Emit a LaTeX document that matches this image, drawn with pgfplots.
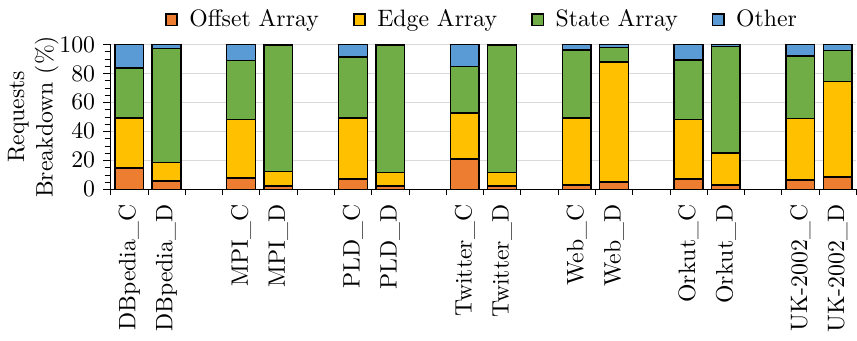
\documentclass[border=0pt]{standalone}
\usepackage{pgfplots}
\usepackage{pgfplotstable}
\pgfplotsset{compat=1.18}
\definecolor{cOff}{HTML}{ED7D31}
\definecolor{cEdge}{HTML}{FFC000}
\definecolor{cState}{HTML}{70AD47}
\definecolor{cOther}{HTML}{5B9BD5}
\pgfplotstableread{
x off edge state other
0 14.7 34.6 34.4 16.3
1 5.6 13.0 78.6 2.8
3 7.9 40.2 40.7 11.2
4 2.1 10.0 87.2 0.7
6 7.0 42.1 42.1 8.8
7 2.1 9.3 88.1 0.5
9 20.9 31.7 32.1 15.3
10 2.1 9.3 88.1 0.5
12 3.0 46.3 46.7 4.0
13 4.9 83.0 10.0 2.1
15 7.0 41.1 41.2 10.7
16 3.0 22.1 73.3 1.6
18 6.5 42.3 43.1 8.1
19 8.6 65.6 21.4 4.4
}\data
\begin{document}
\begin{tikzpicture}
\begin{axis}[
  ybar stacked,
  scale only axis,
  width=314pt, height=61pt,
  bar width=0.77,
  xmin=-0.5, xmax=19.5,
  ymin=0, ymax=100,
  axis x line*=bottom,
  axis y line*=left,
  ytick={0,20,40,60,80,100},
  minor y tick num=3,
  ymajorgrids,
  major grid style={gray!30, line width=0.6pt},
  tick align=outside,
  xtick={0,1,3,4,6,7,9,10,12,13,15,16,18,19},
  xticklabels={DBpedia\_C,DBpedia\_D,MPI\_C,MPI\_D,PLD\_C,PLD\_D,Twitter\_C,Twitter\_D,Web\_C,Web\_D,Orkut\_C,Orkut\_D,UK-2002\_C,UK-2002\_D},
  x tick label style={rotate=90, anchor=east},
  major x tick style={draw=none},
  minor xtick={-0.5,0.5,...,19.5},
  minor x tick style={black},
  minor tick length=2.5pt,
  major tick length=3pt,
  tick style={black},
  ylabel={Requests\\Breakdown (\%)},
  ylabel style={align=center, yshift=-6.5pt},
  legend columns=4,
  legend style={draw=none, at={(0.5,1.03)}, anchor=south,
    /tikz/every odd column/.append style={column sep=2.9pt},
    /tikz/every even column/.append style={column sep=12.4pt}},
  legend image code/.code={\draw[#1] (0pt,-2.35pt) rectangle (4.7pt,2.35pt);},
  every axis plot/.append style={draw=black, line width=0.6pt},
]
\addplot[fill=cOff] table[x=x,y=off]{\data};
\addplot[fill=cEdge] table[x=x,y=edge]{\data};
\addplot[fill=cState] table[x=x,y=state]{\data};
\addplot[fill=cOther] table[x=x,y=other]{\data};
\legend{Offset Array,Edge Array,State Array,Other}
\end{axis}
\end{tikzpicture}
\end{document}
